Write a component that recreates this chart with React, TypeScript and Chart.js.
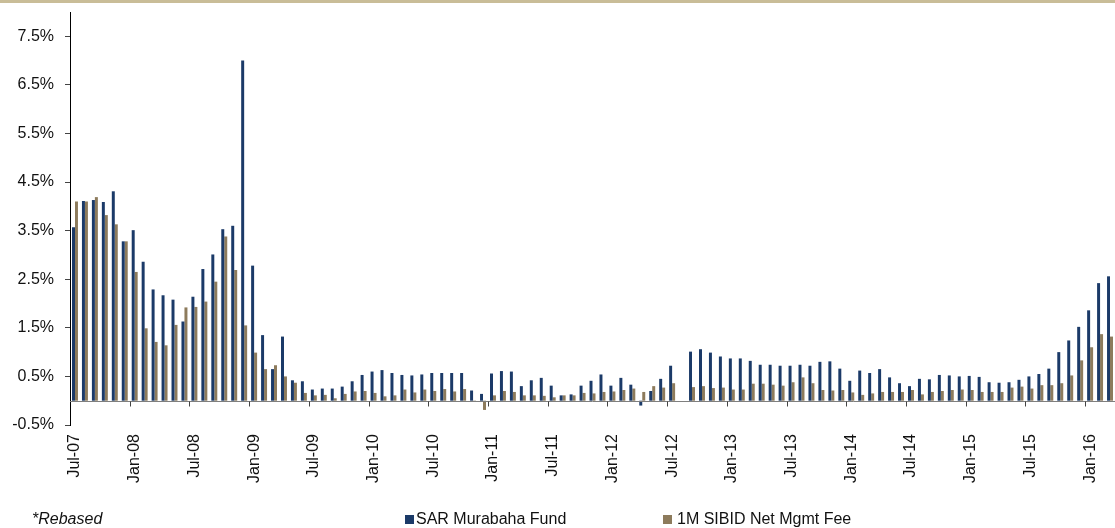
import React, { useEffect, useRef } from "react";
import { Chart, registerables } from "chart.js";

Chart.register(...registerables);

const MONTHS = [
  "Jul-07", "Aug-07", "Sep-07", "Oct-07", "Nov-07", "Dec-07",
  "Jan-08", "Feb-08", "Mar-08", "Apr-08", "May-08", "Jun-08", "Jul-08", "Aug-08", "Sep-08", "Oct-08", "Nov-08", "Dec-08",
  "Jan-09", "Feb-09", "Mar-09", "Apr-09", "May-09", "Jun-09", "Jul-09", "Aug-09", "Sep-09", "Oct-09", "Nov-09", "Dec-09",
  "Jan-10", "Feb-10", "Mar-10", "Apr-10", "May-10", "Jun-10", "Jul-10", "Aug-10", "Sep-10", "Oct-10", "Nov-10", "Dec-10",
  "Jan-11", "Feb-11", "Mar-11", "Apr-11", "May-11", "Jun-11", "Jul-11", "Aug-11", "Sep-11", "Oct-11", "Nov-11", "Dec-11",
  "Jan-12", "Feb-12", "Mar-12", "Apr-12", "May-12", "Jun-12", "Jul-12", "Aug-12", "Sep-12", "Oct-12", "Nov-12", "Dec-12",
  "Jan-13", "Feb-13", "Mar-13", "Apr-13", "May-13", "Jun-13", "Jul-13", "Aug-13", "Sep-13", "Oct-13", "Nov-13", "Dec-13",
  "Jan-14", "Feb-14", "Mar-14", "Apr-14", "May-14", "Jun-14", "Jul-14", "Aug-14", "Sep-14", "Oct-14", "Nov-14", "Dec-14",
  "Jan-15", "Feb-15", "Mar-15", "Apr-15", "May-15", "Jun-15", "Jul-15", "Aug-15", "Sep-15", "Oct-15", "Nov-15", "Dec-15",
  "Jan-16", "Feb-16", "Mar-16",
];

const TICK_LABELS = [
  "Jul-07", "Jan-08", "Jul-08", "Jan-09", "Jul-09", "Jan-10", "Jul-10", "Jan-11", "Jul-11",
  "Jan-12", "Jul-12", "Jan-13", "Jul-13", "Jan-14", "Jul-14", "Jan-15", "Jul-15", "Jan-16",
];

const Y_TICKS = [-0.5, 0.5, 1.5, 2.5, 3.5, 4.5, 5.5, 6.5, 7.5];

const SAR_MURABAHA = [
  3.57, 4.11, 4.13, 4.09, 4.31, 3.28,
  3.51, 2.86, 2.29, 2.17, 2.08, 1.63, 2.14, 2.71, 3.01, 3.53, 3.60, 7.00,
  2.78, 1.35, 0.65, 1.32, 0.42, 0.40, 0.23, 0.25, 0.25, 0.29, 0.40, 0.53,
  0.60, 0.63, 0.57, 0.53, 0.52, 0.54, 0.57, 0.57, 0.57, 0.57, 0.21, 0.14,
  0.56, 0.61, 0.60, 0.30, 0.42, 0.47, 0.31, 0.11, 0.13, 0.31, 0.41, 0.54,
  0.31, 0.47, 0.33, -0.10, 0.20, 0.45, 0.72, null, 1.01, 1.06, 0.99, 0.91,
  0.87, 0.87, 0.82, 0.74, 0.74, 0.72, 0.72, 0.74, 0.72, 0.80, 0.81, 0.66,
  0.41, 0.62, 0.57, 0.65, 0.48, 0.36, 0.30, 0.45, 0.44, 0.53, 0.52, 0.50,
  0.51, 0.49, 0.38, 0.37, 0.38, 0.43, 0.50, 0.55, 0.66, 1.00, 1.24, 1.52,
  1.86, 2.42, 2.56,
];

const SIBID_NET = [
  4.10, 4.10, 4.19, 3.82, 3.63, 3.28,
  2.65, 1.49, 1.21, 1.14, 1.56, 1.92, 1.93, 2.04, 2.45, 3.38, 2.69, 1.55,
  0.99, 0.65, 0.73, 0.50, 0.37, 0.16, 0.11, 0.12, 0.05, 0.14, 0.19, 0.20,
  0.16, 0.09, 0.11, 0.23, 0.17, 0.23, 0.20, 0.24, 0.19, 0.24, -0.02, -0.19,
  0.11, 0.20, 0.18, 0.11, 0.11, 0.10, 0.07, 0.11, 0.11, 0.16, 0.15, 0.18,
  0.19, 0.22, 0.25, 0.18, 0.30, 0.27, 0.36, null, 0.28, 0.30, 0.26, 0.27,
  0.23, 0.23, 0.35, 0.35, 0.33, 0.31, 0.38, 0.48, 0.36, 0.22, 0.21, 0.22,
  0.17, 0.12, 0.15, 0.18, 0.18, 0.18, 0.22, 0.13, 0.18, 0.20, 0.22, 0.23,
  0.22, 0.18, 0.18, 0.18, 0.27, 0.29, 0.25, 0.32, 0.32, 0.36, 0.52, 0.83,
  1.10, 1.37, 1.32,
];

const NAVY = "#1B3A68";
const TAN = "#8D7B5C";
const FONT = "'Liberation Sans', Arial, sans-serif";

const zeroAxisPlugin = {
  id: "zeroAxis",
  afterDatasetsDraw(chart: any) {
    const x = chart.scales.x;
    const y = chart.scales.y;
    const ctx = chart.ctx;
    const y0 = Math.round(y.getPixelForValue(0)) + 0.5;
    ctx.save();
    ctx.strokeStyle = "#7f7f7f";
    ctx.lineWidth = 1;
    ctx.beginPath();
    ctx.moveTo(chart.chartArea.left, y0);
    ctx.lineTo(chart.chartArea.right, y0);
    ctx.stroke();
    const half = (x.getPixelForValue(1) - x.getPixelForValue(0)) / 2;
    ctx.strokeStyle = "#444";
    ctx.beginPath();
    MONTHS.forEach((m, i) => {
      if (TICK_LABELS.includes(m) && i > 0) {
        const px = Math.round(x.getPixelForValue(i) - half) + 0.5;
        ctx.moveTo(px, y0);
        ctx.lineTo(px, y0 + 5);
      }
    });
    ctx.stroke();
    ctx.restore();
  },
};

export default function App() {
  const ref = useRef<HTMLCanvasElement | null>(null);

  useEffect(() => {
    if (!ref.current) return;
    const chart = new Chart(ref.current, {
      type: "bar",
      data: {
        labels: MONTHS,
        datasets: [
          {
            label: "SAR Murabaha Fund",
            data: SAR_MURABAHA,
            backgroundColor: NAVY,
            borderWidth: 0,
            categoryPercentage: 0.6,
            barPercentage: 1.0,
          },
          {
            label: "1M SIBID Net Mgmt Fee",
            data: SIBID_NET,
            backgroundColor: TAN,
            borderWidth: 0,
            categoryPercentage: 0.6,
            barPercentage: 1.0,
          },
        ],
      },
      options: {
        animation: false,
        responsive: false,
        maintainAspectRatio: false,
        devicePixelRatio: 1,
        layout: { padding: { top: 12, left: 0, right: 0, bottom: 0 } },
        plugins: {
          legend: { display: false },
          tooltip: { enabled: false },
        },
        scales: {
          x: {
            type: "category",
            offset: true,
            grid: { display: false, drawTicks: false },
            border: { display: false },
            ticks: {
              autoSkip: false,
              minRotation: 90,
              maxRotation: 90,
              padding: 9,
              color: "#111",
              font: { family: FONT, size: 16 },
              callback: (_v: any, i: number) => (TICK_LABELS.includes(MONTHS[i]) ? MONTHS[i] : ""),
            },
            afterFit: (s: any) => {
              s.height = 103;
              s.paddingLeft = 0;
              s.paddingRight = 0;
            },
          },
          y: {
            min: -0.5,
            max: 8,
            afterBuildTicks: (s: any) => {
              s.ticks = Y_TICKS.map((v) => ({ value: v }));
            },
            afterFit: (s: any) => {
              s.width = 70;
              s.paddingTop = 0;
              s.paddingBottom = 0;
            },
            border: { display: true, color: "#000", width: 1 },
            grid: { drawOnChartArea: false, drawTicks: true, tickLength: 5, tickColor: "#444" },
            ticks: {
              padding: 11,
              color: "#111",
              font: { family: FONT, size: 16 },
              callback: (v: any) => Number(v).toFixed(1) + "%",
            },
          },
        },
      },
      plugins: [zeroAxisPlugin],
    });
    return () => chart.destroy();
  }, []);

  const textStyle: React.CSSProperties = {
    position: "absolute",
    fontFamily: FONT,
    fontSize: 16,
    lineHeight: "16px",
    color: "#111",
    whiteSpace: "nowrap",
  };

  return (
    <div style={{ position: "absolute", left: 0, top: 0, width: 1115, height: 528, overflow: "hidden", background: "#fff" }}>
      <div style={{ position: "absolute", left: 0, top: 0, width: 1115, height: 3, background: "#C9BD98" }} />
      <canvas ref={ref} width={1115} height={528} style={{ position: "absolute", left: 0, top: 0, width: 1115, height: 528 }} />
      <div style={{ ...textStyle, left: 32, top: 511, fontStyle: "italic" }}>*Rebased</div>
      <div style={{ position: "absolute", left: 405, top: 515, width: 9, height: 9, background: NAVY }} />
      <div style={{ ...textStyle, left: 416, top: 511 }}>SAR Murabaha Fund</div>
      <div style={{ position: "absolute", left: 663, top: 515, width: 9, height: 9, background: TAN }} />
      <div style={{ ...textStyle, left: 677, top: 511 }}>1M SIBID Net Mgmt Fee</div>
    </div>
  );
}
